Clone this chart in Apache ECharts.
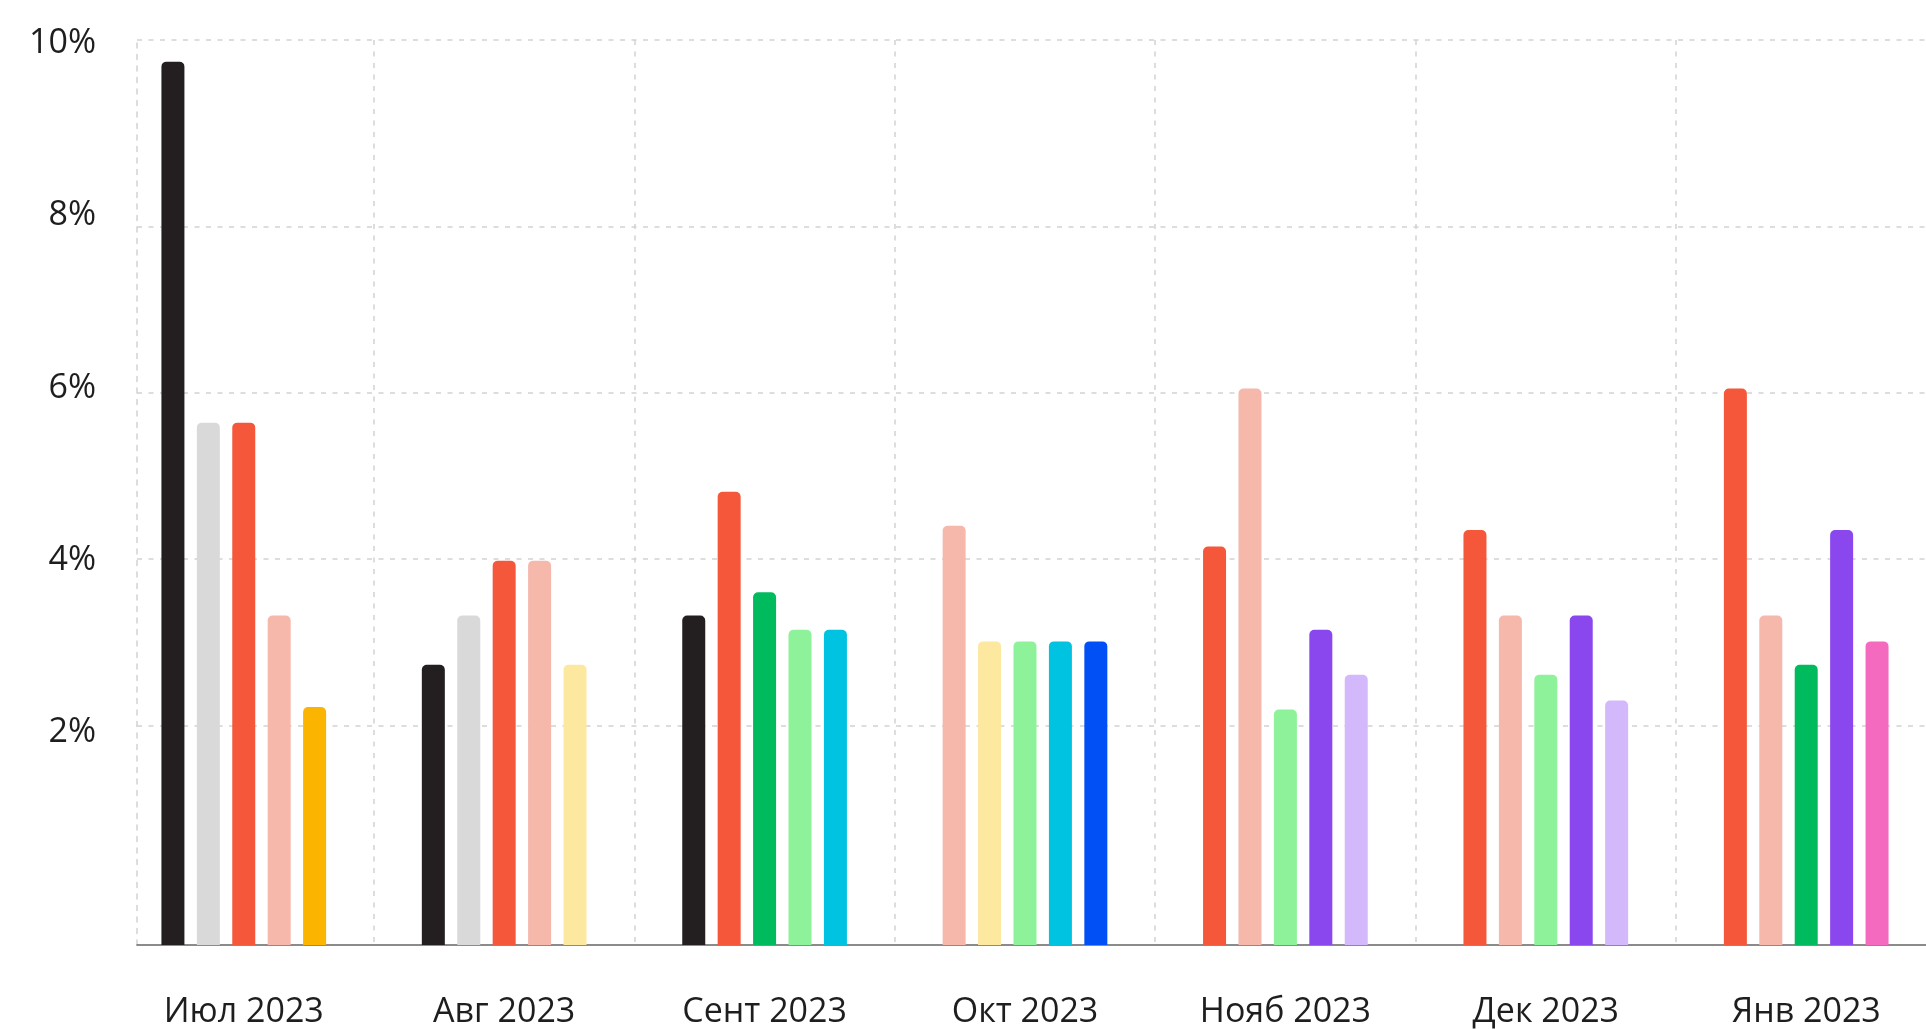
<!DOCTYPE html>
<html>
<head>
<meta charset="utf-8">
<script src="https://cdn.jsdelivr.net/npm/echarts@6/dist/echarts.min.js"></script>
<style>
  html, body { margin: 0; padding: 0; background: #fff; }
  #chart { width: 1926px; height: 1029px; }
</style>
</head>
<body>
<div id="chart"></div>
<script>
// months on the x axis
var months = ['Июл 2023', 'Авг 2023', 'Сент 2023', 'Окт 2023', 'Нояб 2023', 'Дек 2023', 'Янв 2023'];

// five bars per month, in left-to-right order (percent)
var bar1 = [9.98, 2.73, 3.32, 4.40, 4.15, 4.35, 6.05];
var bar2 = [5.64, 3.32, 4.81, 3.01, 6.05, 3.32, 3.32];
var bar3 = [5.64, 3.98, 3.60, 3.01, 2.19, 2.61, 2.73];
var bar4 = [3.32, 3.98, 3.15, 3.01, 3.15, 3.32, 4.35];
var bar5 = [2.22, 2.73, 3.15, 3.01, 2.61, 2.30, 3.01];

var C = {
  black: '#231f20', grey: '#d9d9d9', red: '#f4573a', pink: '#f5b8aa',
  amber: '#fbb400', yellow: '#fde8a0', green: '#00bb5e', mint: '#8ef29a',
  cyan: '#00c3e1', blue: '#0050f5', purple: '#8a47ee', lilac: '#d3b8fb',
  magenta: '#f46abf'
};
var color1 = [C.black, C.black, C.black, C.pink, C.red, C.red, C.red];
var color2 = [C.grey, C.grey, C.red, C.yellow, C.pink, C.pink, C.pink];
var color3 = [C.red, C.red, C.green, C.mint, C.mint, C.mint, C.green];
var color4 = [C.pink, C.pink, C.mint, C.cyan, C.purple, C.purple, C.purple];
var color5 = [C.amber, C.yellow, C.cyan, C.blue, C.lilac, C.lilac, C.magenta];

// y tick labels
var yTicks = [2, 4, 6, 8, 10];

var yMin = -0.64;
var yMax = 10.24;
var gridLine = { color: '#d2d2d2', width: 1.5, type: [5, 6.5] };
var font = 'Open Sans';

var bars = [bar1, bar2, bar3, bar4, bar5];
var colors = [color1, color2, color3, color4, color5];

var series = bars.map(function (vals, k) {
  return {
    type: 'bar',
    xAxisIndex: 0,
    yAxisIndex: 0,
    barWidth: 23,
    barGap: '54%',
    itemStyle: { borderRadius: [5, 5, 0, 0] },
    data: vals.map(function (v, i) {
      return { value: [i, v], itemStyle: { color: colors[k][i] } };
    })
  };
});

var chart = echarts.init(document.getElementById('chart'));
chart.setOption({
  backgroundColor: '#fff',
  animation: false,
  grid: { left: 137, right: 0, top: 40, bottom: 82.3 },
  xAxis: {
    type: 'value',
    min: -0.41,
    max: 6.46,
    axisLine: { show: true, onZero: false, lineStyle: { color: '#666', width: 1.5 } },
    axisTick: { show: false, customValues: [0.5, 1.5, 2.5, 3.5, 4.5, 5.5] },
    splitLine: { show: true, lineStyle: gridLine },
    axisLabel: {
      customValues: [0, 1, 2, 3, 4, 5, 6],
      formatter: function (v) { return months[Math.round(v)]; },
      fontFamily: font,
      fontSize: 34,
      color: '#1e1e1e',
      margin: 50
    }
  },
  yAxis: [
    {
      type: 'value',
      min: yMin,
      max: yMax,
      startValue: yMin,
      axisLine: { show: true, onZero: false, lineStyle: gridLine },
      axisTick: { show: false, customValues: [2, 4, 6, 8, yMax] },
      splitLine: { show: true, lineStyle: gridLine },
      axisLabel: { show: false }
    },
    {
      type: 'value',
      position: 'left',
      min: -0.47,
      max: 10.04,
      axisLine: { show: false },
      axisTick: { show: false },
      splitLine: { show: false },
      axisLabel: {
        customValues: yTicks,
        formatter: '{value}%',
        fontFamily: font,
        fontSize: 34,
        color: '#1e1e1e',
        margin: 41
      }
    }
  ],
  series: series
});
</script>
</body>
</html>
